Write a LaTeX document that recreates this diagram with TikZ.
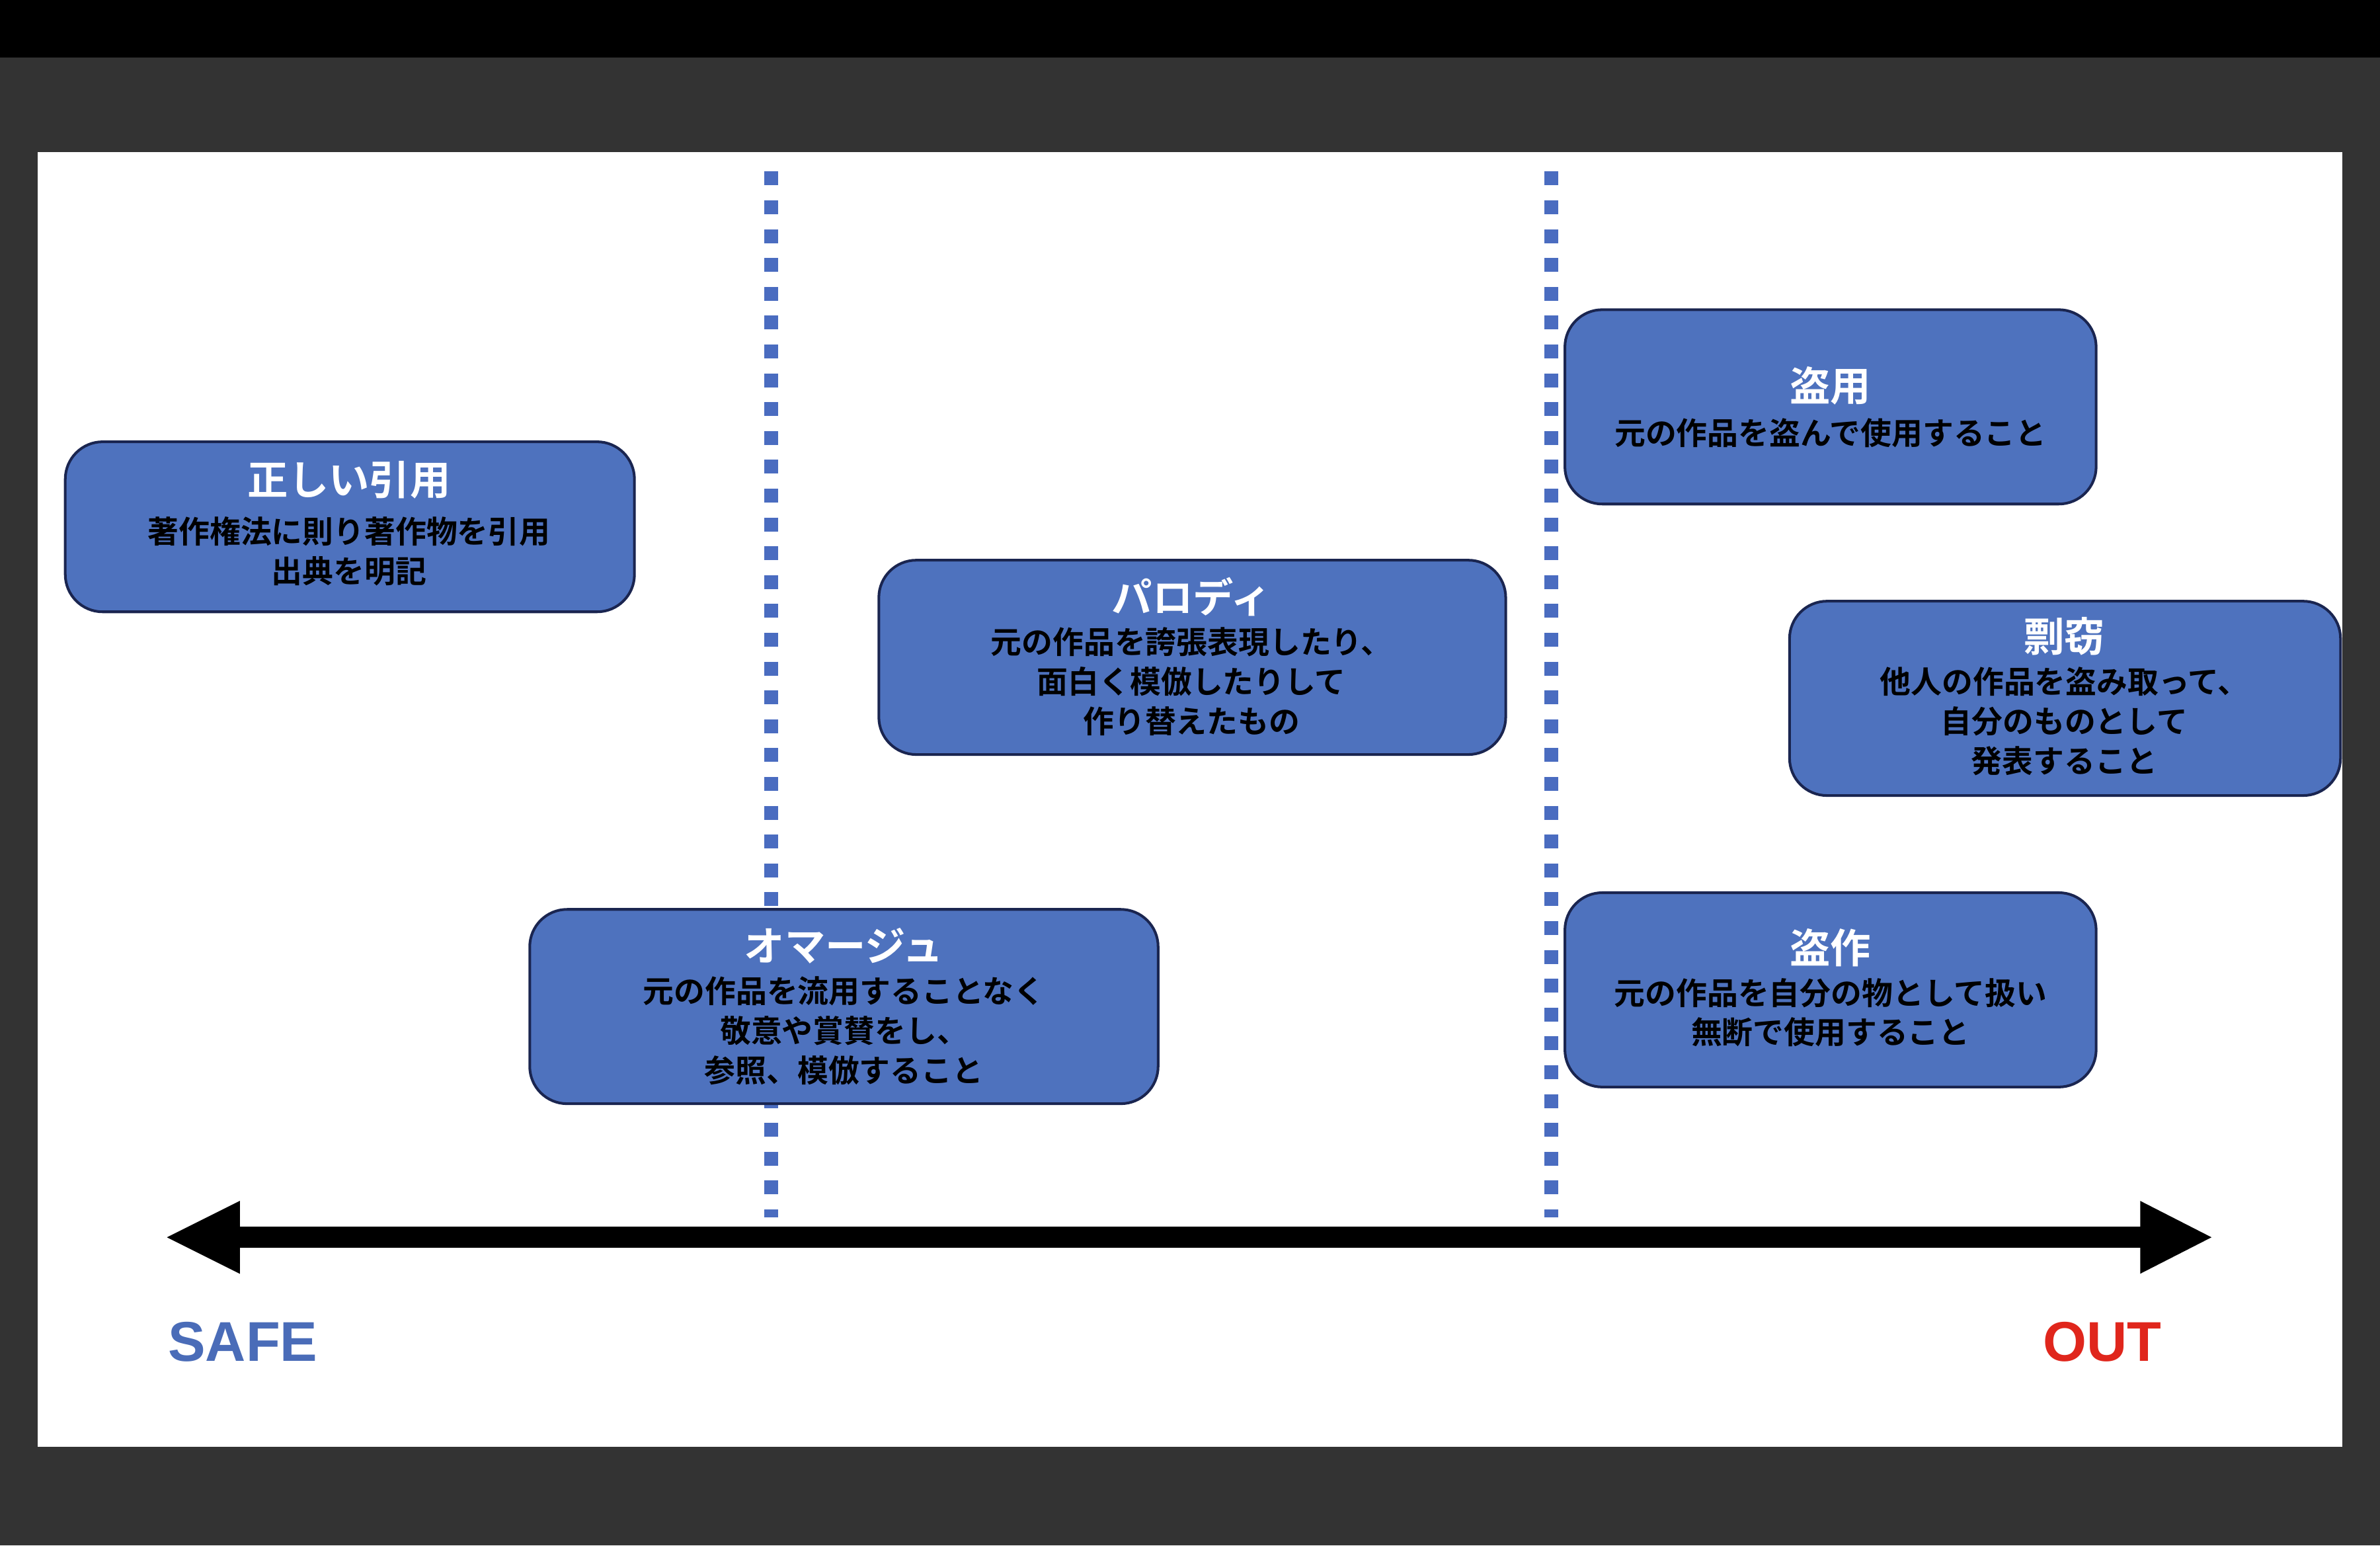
\documentclass[tikz,border=0pt]{standalone}
\usepackage{fontspec}
\newfontfamily\jp{Noto Sans CJK JP}[BoldFont={Noto Sans CJK JP Bold}]
\newfontfamily\lat{Liberation Sans}
\definecolor{boxblue}{HTML}{4E72BE}
\definecolor{dotblue}{HTML}{4A6CC0}
\definecolor{navy}{HTML}{1A2550}
\definecolor{outred}{HTML}{E0261C}
\definecolor{safeblue}{HTML}{4A6CB8}
\begin{document}
\begin{tikzpicture}[x=0.01cm,y=-0.01cm,
  box/.style={draw=navy,line width=0.5pt,fill=boxblue,rounded corners=7pt},
  ttl/.style={text=white,font=\jp\bfseries\fontsize{7.6}{9}\selectfont,inner sep=0},
  bdy/.style={text=black,font=\jp\bfseries\fontsize{5.8}{7.4}\selectfont,align=center,inner sep=0},
  sep/.style={dotblue,line width=2.6pt,dash pattern=on 2.6pt off 2.8pt}]
\useasboundingbox (0,0) rectangle (1568,1018);
\fill[black!80] (0,0) rectangle (1568,1018);
\fill[black] (0,0) rectangle (1568,38);
\fill[white] (25,100) rectangle (1543,953);
\coordinate (d1a) at (508,113); \coordinate (d1b) at (508,802);
\coordinate (d2a) at (1022,113); \coordinate (d2b) at (1022,802);
\draw[sep] (d1a) -- (d1b);
\draw[sep] (d2a) -- (d2b);
% boxes
\draw[box] (43,291) rectangle (418,403);
\node[ttl] (t1) at (230,316) {正しい引用};
\node[bdy] (b1) at (230,363) {著作権法に則り著作物を引用\\出典を明記};
\draw[box] (579,369) rectangle (992,497);
\node[ttl] (t2) at (785,393) {パロディ};
\node[bdy] (b2) at (785,449) {元の作品を誇張表現したり、\\面白く模倣したりして\\作り替えたもの};
\draw[box] (349,599) rectangle (763,727);
\node[ttl] (t3) at (556,623) {オマージュ};
\node[bdy] (b3) at (556,679) {元の作品を流用することなく\\敬意や賞賛をし、\\参照、模倣すること};
\draw[box] (1031,204) rectangle (1381,332);
\node[ttl] (t4) at (1206,254) {盗用};
\node[bdy] (b4) at (1206,285) {元の作品を盗んで使用すること};
\draw[box] (1179,396) rectangle (1542,524);
\node[ttl] (t5) at (1360,419) {剽窃};
\node[bdy] (b5) at (1360,475) {他人の作品を盗み取って、\\自分のものとして\\発表すること};
\draw[box] (1031,588) rectangle (1381,716);
\node[ttl] (t6) at (1206,624) {盗作};
\node[bdy] (b6) at (1206,667) {元の作品を自分の物として扱い\\無断で使用すること};
% arrow
\coordinate (L) at (110,815); \coordinate (R) at (1457,815);
\draw[line width=14\pgflinewidth/14*0+3.9pt] (155,815) -- (1412,815);
\fill (L) -- (158,791) -- (158,839) -- cycle;
\fill (R) -- (1410,791) -- (1410,839) -- cycle;
\node[text=safeblue,font=\lat\bfseries\fontsize{10.5}{12}\selectfont] (safe) at (160,884) {SAFE};
\node[text=outred,font=\lat\bfseries\fontsize{10.5}{12}\selectfont] (out) at (1385,884) {OUT};
\end{tikzpicture}
\end{document}
